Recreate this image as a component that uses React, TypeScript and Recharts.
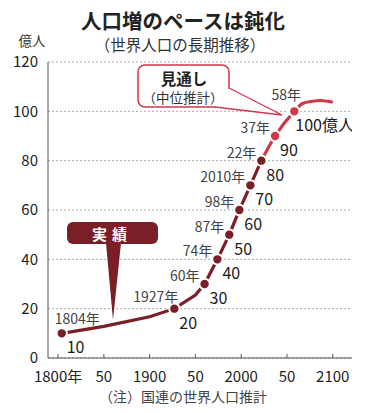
import { ComposedChart, Line, XAxis, YAxis, CartesianGrid } from 'recharts';

// 実績 (actual) and 見通し (projection), 億人
const actualYears = [1804, 1850, 1900, 1927, 1950, 1960, 1974, 1987, 1998, 2010, 2022];
const actualPop = [10, 12.8, 16.7, 20, 25.5, 30, 40, 50, 60, 70, 80];
const projYears = [2022, 2037, 2058, 2067, 2078, 2086, 2100];
const projPop = [80, 90, 100, 103.2, 104.1, 104.4, 103.7];

// milestone points with labels
const markYears = [1804, 1927, 1960, 1974, 1987, 1998, 2010, 2022, 2037, 2058];
const markYearLabels = ['1804年', '1927年', '60年', '74年', '87年', '98年', '2010年', '22年', '37年', '58年'];
const markValueLabels = ['10', '20', '30', '40', '50', '60', '70', '80', '90', '100億人'];

const xTicks = [1800, 1850, 1900, 1950, 2000, 2050, 2100];
const xTickLabels = ['1800年', '50', '1900', '50', '2000', '50', '2100'];
const yTicks = [0, 20, 40, 60, 80, 100, 120];

const actualData = actualYears.map((year, i) => ({ year, pop: actualPop[i] }));
const projData = projYears.map((year, i) => ({ year, pop: projPop[i] }));

const DARK = '#7a1f27';
const RED = '#d13649';
const FONT = '"Noto Sans CJK JP", "Noto Sans", sans-serif';

const renderDot = (color: string) => (props: any) => {
  const { cx, cy, payload, index } = props;
  const i = markYears.indexOf(payload.year);
  if (i < 0 || (color === RED && payload.year === 2022)) return <g key={`e${index}`} />;

  let yx = cx - 5;
  let yy = cy - 9;
  let anchor: 'start' | 'middle' | 'end' = 'end';
  if (i === 0) { yx = cx - 7; yy = cy - 15; anchor = 'start'; }
  if (i === 1) { yx = cx + 4; yy = cy - 13; }
  if (i === 9) { yx = cx - 8; yy = cy - 17; anchor = 'middle'; }
  const vx = i === 9 ? cx + 1 : cx + 5;

  return (
    <g key={`d${index}`}>
      <circle cx={cx} cy={cy} r={5.2} fill={color} stroke="#fff" strokeWidth={2} />
      <text x={yx} y={yy} textAnchor={anchor} dominantBaseline="central" fontSize={14} fill="#444" fontFamily={FONT}>
        {markYearLabels[i]}
      </text>
      <text x={vx} y={cy + 13} dominantBaseline="central" fontSize={16} fill="#1a1a1a" fontFamily={FONT}>
        {markValueLabels[i]}
      </text>
    </g>
  );
};

const XTick = (props: any) => {
  const { x, y, payload } = props;
  const i = xTicks.indexOf(payload.value);
  return (
    <g>
      <line x1={x} x2={x} y1={y - 4} y2={y} stroke="#555" />
      <text x={x} y={y + 17} textAnchor="middle" dominantBaseline="central" fontSize={15} fill="#222" fontFamily={FONT}>
        {xTickLabels[i]}
      </text>
    </g>
  );
};

export default function App() {
  return (
    <div style={{ position: 'absolute', left: 0, top: 0, width: 377, height: 413, background: '#fff', fontFamily: FONT }}>
      <ComposedChart width={377} height={413} margin={{ top: 62, right: 25, bottom: 25, left: 0 }}>
        <CartesianGrid vertical={false} strokeDasharray="2 2" stroke="#aaa" />
        <XAxis
          type="number"
          dataKey="year"
          domain={[1789, 2121]}
          ticks={xTicks}
          allowDataOverflow
          tick={<XTick />}
          tickLine={false}
          tickSize={0}
          tickMargin={0}
          height={30}
          axisLine={{ stroke: '#555' }}
        />
        <YAxis
          type="number"
          domain={[0, 120]}
          ticks={yTicks}
          width={48}
          tickLine={false}
          tickMargin={4}
          axisLine={{ stroke: '#555' }}
          tick={{ fontSize: 15, fill: '#222', fontFamily: FONT }}
        />
        <Line
          data={projData}
          dataKey="pop"
          type="monotone"
          stroke={RED}
          strokeWidth={3.2}
          dot={renderDot(RED)}
          activeDot={false}
          isAnimationActive={false}
        />
        <Line
          data={actualData}
          dataKey="pop"
          type="linear"
          stroke={DARK}
          strokeWidth={3.2}
          dot={renderDot(DARK)}
          activeDot={false}
          isAnimationActive={false}
        />
      </ComposedChart>
      <svg width={377} height={413} style={{ position: 'absolute', left: 0, top: 0, pointerEvents: 'none' }}>
        <text x={183} y={20} textAnchor="middle" dominantBaseline="central" fontSize={20.5} fontWeight="bold" fill="#222">
          人口増のペースは鈍化
        </text>
        <text x={180} y={44} textAnchor="middle" dominantBaseline="central" fontSize={15.5} fill="#333">
          （世界人口の長期推移）
        </text>
        <text x={32} y={40} textAnchor="middle" dominantBaseline="central" fontSize={13.5} fill="#333">
          億人
        </text>
        {/* 見通し callout */}
        <rect x={138} y={65} width={91} height={42} rx={7} fill="#fff" stroke={RED} strokeWidth={1.5} />
        <path d="M229 88 L282 115 L215 107" fill="#fff" stroke={RED} strokeWidth={1.3} />
        <text x={184} y={78} textAnchor="middle" dominantBaseline="central" fontSize={15.5} fontWeight="bold" fill="#222">
          見通し
        </text>
        <text x={183} y={97} textAnchor="middle" dominantBaseline="central" fontSize={13.5} fill="#333">
          （中位推計）
        </text>
        {/* 実績 callout */}
        <rect x={67} y={222} width={91} height={22} rx={6} fill={DARK} />
        <path d="M106 243 L113 320 L121 243 Z" fill={DARK} />
        <text x={112} y={233} textAnchor="middle" dominantBaseline="central" fontSize={15} fontWeight="bold" fill="#fff" letterSpacing={5}>
          実績
        </text>
        <text x={183} y={396} textAnchor="middle" dominantBaseline="central" fontSize={14} fill="#444">
          （注）国連の世界人口推計
        </text>
      </svg>
    </div>
  );
}
